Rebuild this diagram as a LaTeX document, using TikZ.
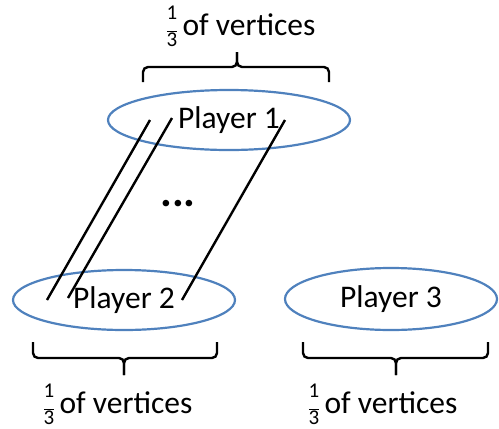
\documentclass[tikz,border=0pt]{standalone}
\usepackage{fontspec}
\setmainfont{Carlito}
\usetikzlibrary{shapes.geometric,calc}
\definecolor{ellblue}{HTML}{4F81BD}
\tikzset{
  player/.style={ellipse, draw=ellblue, line width=2.2pt, font=\fontsize{31.5}{34}\selectfont},
  link/.style={draw=black, line width=2.4pt},
  bracepath/.style={draw=black, line width=2.4pt, rounded corners=5pt},
  frac/.style={font=\fontsize{31.5}{34}\selectfont, inner sep=0pt}
}
\newcommand{\third}{$\vcenter{\hbox{\fontsize{21}{22}\selectfont\begin{tabular}{@{}c@{}}1\\[-7pt]\rule[3pt]{10pt}{0.9pt}\\[-10pt]3\end{tabular}}}$}
\begin{document}
\begin{tikzpicture}[x=1pt,y=-1pt]
\useasboundingbox (0,0) rectangle (499,429);
\node[player, minimum width=242pt, minimum height=60pt] (p1) at (229,120) {Player 1};
\node[player, minimum width=222pt, minimum height=60pt] (p2) at (124,300) {Player 2};
\node[player, minimum width=212pt, minimum height=62pt] (p3) at (391,299) {Player 3};
% connectors
\coordinate (a1) at (47,300); \coordinate (b1) at (150,120);
\coordinate (a2) at (68,298); \coordinate (b2) at (172,118);
\coordinate (a3) at (182,300); \coordinate (b3) at (285,120);
\draw[link] (a1) -- (b1);
\draw[link] (a2) -- (b2);
\draw[link] (a3) -- (b3);
\node[font=\fontsize{44}{44}\bfseries] (dots) at (178,204) {...};
% top brace
\draw[bracepath] (143,82) -- (143,67) -- (237,67) -- (237,52);
\draw[bracepath] (329,82) -- (329,67) -- (237,67) -- (237,52);
\node[frac] (l1) at (241,29) {\third\,of vertices};
% bottom left brace
\draw[bracepath] (33,342) -- (33,358) -- (124,358) -- (124,375);
\draw[bracepath] (217,342) -- (217,358) -- (124,358) -- (124,375);
\node[frac] (l2) at (118,407) {\third\,of vertices};
% bottom right brace
\draw[bracepath] (303,342) -- (303,358) -- (396,358) -- (396,375);
\draw[bracepath] (488,342) -- (488,358) -- (396,358) -- (396,375);
\node[frac] (l3) at (383,407) {\third\,of vertices};
\end{tikzpicture}
\end{document}
